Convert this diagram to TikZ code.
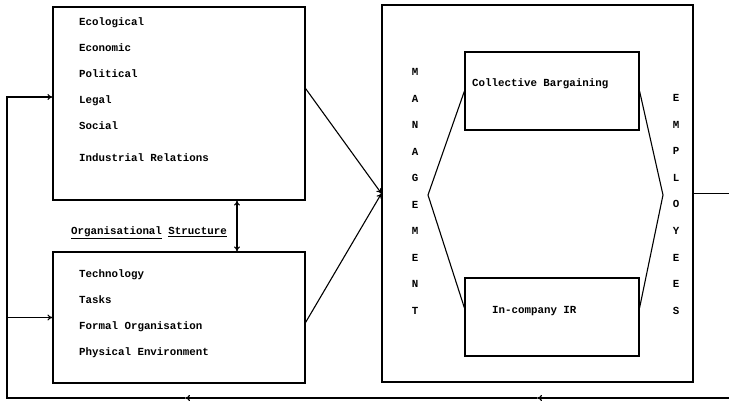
\documentclass[tikz,border=0pt]{standalone}
\usepackage{fontspec}
\setmainfont{Liberation Mono}
\usetikzlibrary{arrows.meta,positioning}

\begin{document}
\begin{tikzpicture}[x=1pt, y=-1pt, node distance=15.7pt,
  box/.style={draw, line width=1.1pt, inner sep=0pt},
  item/.style={font=\bfseries\fontsize{10.8}{12}\selectfont, inner sep=0pt, text height=8pt, text depth=2pt},
  word/.style={font=\bfseries\fontsize{10.8}{12}\selectfont, inner sep=0pt, anchor=west},
  letter/.style={font=\bfseries\fontsize{10.8}{12}\selectfont, inner sep=0pt},
  arrow/.style={-{To[length=5pt,width=6pt]}, line width=1.1pt},
  line/.style={line width=1.1pt}]
\useasboundingbox (0,0) rectangle (729,403);

% boxes
\node[box, minimum width=252pt, minimum height=193pt] (env) at (179,103.5) {};
\node[box, minimum width=252pt, minimum height=131pt] (org) at (179,317.5) {};
\node[box, minimum width=311pt, minimum height=377pt] (ir) at (537.5,193.5) {};
\node[box, minimum width=174pt, minimum height=78pt] (cb) at (552,91) {};
\node[box, minimum width=174pt, minimum height=78pt] (ic) at (552,317) {};

% environment
\node[item, anchor=north west] (eco) at (79,17) {Ecological};
\node[item, below=of eco.south west, anchor=north west] (econ) {Economic};
\node[item, below=of econ.south west, anchor=north west] (pol) {Political};
\node[item, below=of pol.south west, anchor=north west] (leg) {Legal};
\node[item, below=of leg.south west, anchor=north west] (soc) {Social};
\node[item, below=22pt of soc.south west, anchor=north west] (indr) {Industrial Relations};

% organisation
\node[item, anchor=north west] (tech) at (79,269) {Technology};
\node[item, below=of tech.south west, anchor=north west] (task) {Tasks};
\node[item, below=of task.south west, anchor=north west] (form) {Formal Organisation};
\node[item, below=of form.south west, anchor=north west] (phys) {Physical Environment};

\node[letter] (orgs) at (149,233) {\underline{Organisational} \underline{Structure}};

% inner boxes
\node[word] (cbtxt) at (472,84) {Collective Bargaining};
\node[word] (ictxt) at (492,311) {In-company IR};

\foreach \c [count=\i from 0] in {M,A,N,A,G,E,M,E,N,T}
  \node[letter] (man\i) at (415,72+26.5*\i) {\c};
\foreach \c [count=\i from 0] in {E,M,P,L,O,Y,E,E,S}
  \node[letter] (emp\i) at (676,98+26.6*\i) {\c};

% hexagon
\coordinate (lv) at (428,195);
\coordinate (rv) at (663,195);
\draw[line] (cb.west) -- (lv) -- ([yshift=9pt]ic.west);
\draw[line] (cb.east) -- (rv) -- ([yshift=9pt]ic.east);

% connections
\draw[arrow] ([yshift=15pt]env.east) -- (ir.west);
\draw[arrow] ([yshift=-5pt]org.east) -- (ir.west);
\draw[{To[length=5pt,width=6pt]}-{To[length=5pt,width=6pt]}, line width=1.1pt] ([xshift=58pt]env.south) -- ([xshift=58pt]org.north);

% feedback
\coordinate (out) at (729,193.5);
\coordinate (back) at (729,398);
\coordinate (m2) at (537,398);
\coordinate (m1) at (185,398);
\coordinate (corner) at (7,398);
\draw[line] (ir.east) -- (out);
\draw[arrow] (back) -- (m2);
\draw[arrow] (m2) -- (m1);
\draw[arrow] (m1) -- (corner) |- ([yshift=6.5pt]env.west);
\draw[arrow] (corner |- org.west) -- (org.west);
\end{tikzpicture}
\end{document}
